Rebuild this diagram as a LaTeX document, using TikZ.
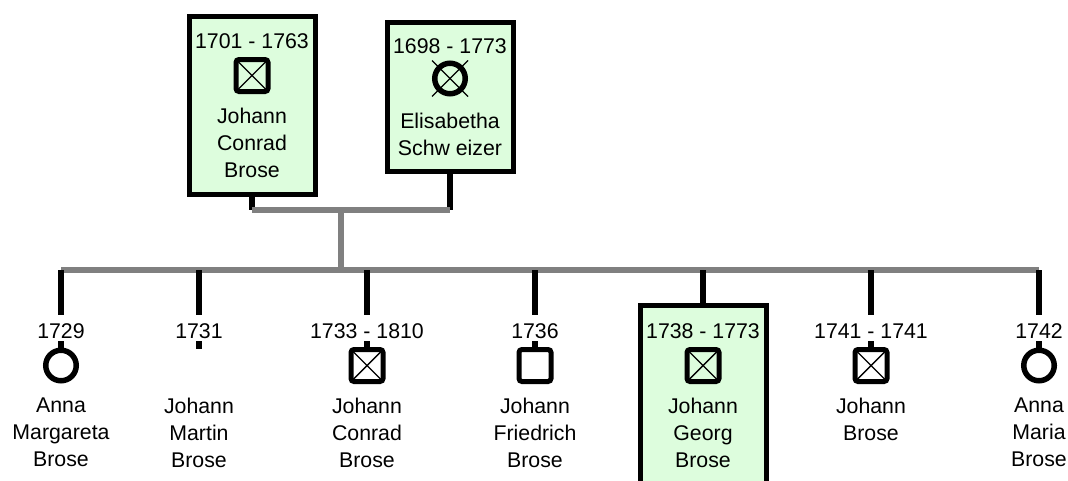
\documentclass[tikz,border=0pt]{standalone}
\usepackage{fontspec}
\setmainfont{Liberation Sans}
\definecolor{boxgreen}{RGB}{221,253,221}
\definecolor{kingray}{RGB}{128,128,128}

\begin{document}
\begin{tikzpicture}[x=1pt,y=-1pt]
      \tikzstyle{every node}=[font=\fontsize{21.3}{27}\selectfont]
      \tikzstyle{year}=[anchor=base, inner sep=0pt]
      \tikzstyle{yearcut}=[year, fill=white, text height=23.5pt, text depth=3pt]
      \tikzstyle{who}=[align=center, anchor=north, inner sep=0pt]
      \tikzstyle{focus}=[draw, line width=5pt, fill=boxgreen, inner sep=0pt, minimum width=126pt]
      \tikzstyle{cross}=[line width=1.4pt]
      \tikzstyle{male}=[draw, line width=5pt, rounded corners=3pt, minimum size=32pt, inner sep=0pt]
      \tikzstyle{deadmale}=[male, path picture={
        \draw[cross] (path picture bounding box.north west) -- (path picture bounding box.south east)
                     (path picture bounding box.south west) -- (path picture bounding box.north east);}]
      \tikzstyle{female}=[circle, draw, line width=5.5pt, minimum size=30.5pt, inner sep=0pt]
      \tikzstyle{couple}=[kingray, line width=6pt]
      \tikzstyle{descent}=[line width=5.5pt]

      \clip (0,0) rectangle (1068,480);

      % parents
      \node[focus, minimum height=178pt] (fbox) at (252,105.5) {};
      \node[year] (yf) at (252,48) {1701 - 1763};
      \node[deadmale] (sf) at (252,75.5) {};
      \node[who] (nf) at (252,107.7) {Johann\\Conrad\\Brose};

      \node[focus, minimum height=149pt] (mbox) at (450,97) {};
      \node[year] (ym) at (450,53) {1698 - 1773};
      \node[female] (sm) at (450,78.5) {};
      \draw[cross] (sm.center) +(-18,-18) -- +(18,18);
      \draw[cross] (sm.center) +(-18,18) -- +(18,-18);
      \node[who] (nm) at (450,112.7) {Elisabetha\\Schw eizer};

      % children
      \node[female] (s1) at (61,365.5) {};
      \coordinate (s2) at (199,349);
      \node[deadmale] (s3) at (367,365.5) {};
      \node[male] (s4) at (535,365.5) {};
      \node[focus, minimum height=192pt] (gbox) at (703,401.5) {};
      \node[deadmale] (s5) at (703,365.5) {};
      \node[deadmale] (s6) at (871,365.5) {};
      \node[female] (s7) at (1039,365.5) {};

      % lines
      \coordinate (pf) at (252,210);
      \coordinate (pm) at (450,210);
      \coordinate (fork) at (341,210);
      \coordinate (bar) at (341,270);
      \coordinate (r1) at (61,270);
      \coordinate (r2) at (199,270);
      \coordinate (r3) at (367,270);
      \coordinate (r4) at (535,270);
      \coordinate (r5) at (703,270);
      \coordinate (r6) at (871,270);
      \coordinate (r7) at (1039,270);

      \draw[descent] (fbox.south) -- (pf);
      \draw[descent] (mbox.south) -- (pm);
      \draw[couple] (pf) -- (pm);
      \draw[couple] (fork) -- (bar);
      \draw[couple] (r1) -- (r7);
      \draw[descent] (r1) -- (s1.north);
      \draw[descent] (r2) -- (s2);
      \draw[descent] (r3) -- (s3.north);
      \draw[descent] (r4) -- (s4.north);
      \draw[descent] (r5) -- (gbox.north);
      \draw[descent] (r6) -- (s6.north);
      \draw[descent] (r7) -- (s7.north);

      \node[yearcut] (y1) at (61,338) {1729};
      \node[yearcut] (y2) at (199,338) {1731};
      \node[yearcut] (y3) at (367,338) {1733 - 1810};
      \node[yearcut] (y4) at (535,338) {1736};
      \node[year] (y5) at (703,338) {1738 - 1773};
      \node[yearcut] (y6) at (871,338) {1741 - 1741};
      \node[yearcut] (y7) at (1039,338) {1742};

      \node[who] (n1) at (61,397.8) {Anna\\Margareta\\Brose};
      \node[who] (n2) at (199,397.8) {Johann\\Martin\\Brose};
      \node[who] (n3) at (367,397.8) {Johann\\Conrad\\Brose};
      \node[who] (n4) at (535,397.8) {Johann\\Friedrich\\Brose};
      \node[who] (n5) at (703,397.8) {Johann\\Georg\\Brose};
      \node[who] (n6) at (871,397.8) {Johann\\Brose};
      \node[who] (n7) at (1039,397.8) {Anna\\Maria\\Brose};
    \end{tikzpicture}
\end{document}
